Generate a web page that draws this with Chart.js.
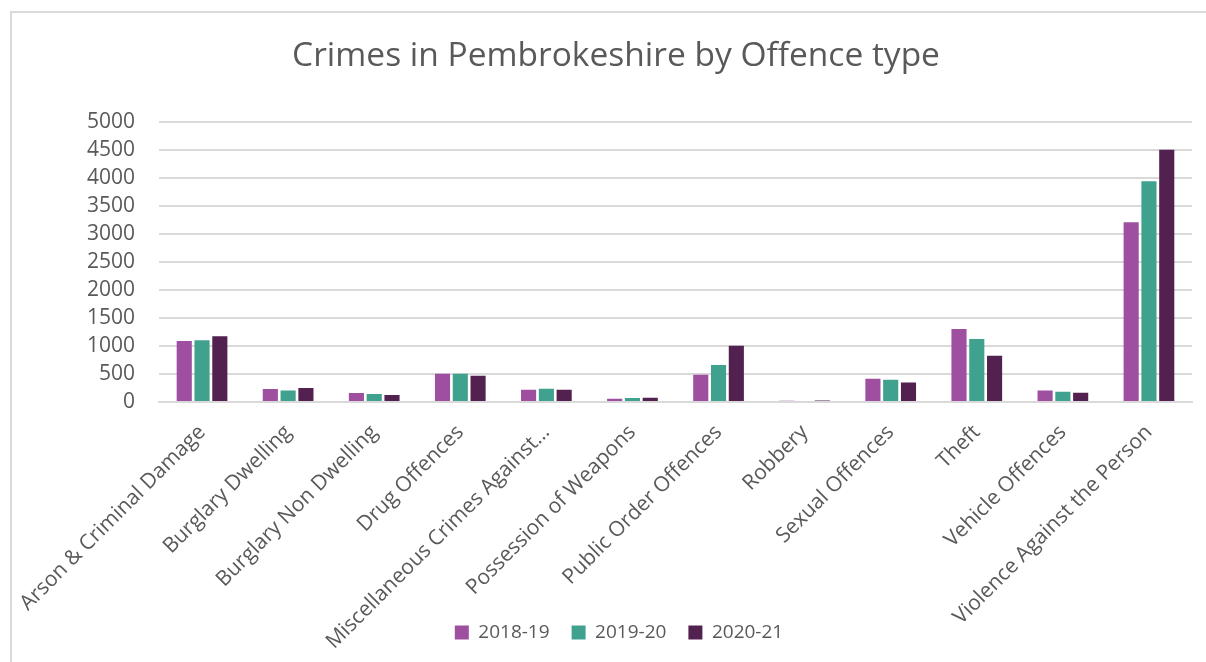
<!DOCTYPE html>
<html>
<head>
<meta charset="utf-8">
<script src="https://cdn.jsdelivr.net/npm/chart.js@4.4.0/dist/chart.umd.min.js"></script>
<style>
    html, body { margin: 0; padding: 0; background: #fff; }
    #frame {
        position: absolute;
        left: 10px;
        top: 11px;
        width: 1194px;
        height: 649px;
        border-left: 2px solid #d9d9d9;
        border-top: 2px solid #d9d9d9;
    }
    canvas { display: block; }
</style>
</head>
<body>
<div id="frame">
    <canvas id="barChart" width="1194" height="649"></canvas>
</div>
<script>
// data
const categories = [
    'Arson & Criminal Damage',
    'Burglary Dwelling',
    'Burglary Non Dwelling',
    'Drug Offences',
    'Miscellaneous Crimes Against\u2026',
    'Possession of Weapons',
    'Public Order Offences',
    'Robbery',
    'Sexual Offences',
    'Theft',
    'Vehicle Offences',
    'Violence Against the Person'
];
const seriesNames = ['2018-19', '2019-20', '2020-21'];
const values2018 = [1092, 232, 160, 504, 219, 59, 487, 23, 415, 1306, 207, 3213];
const values2019 = [1105, 207, 142, 504, 237, 71, 659, 20, 397, 1128, 184, 3943];
const values2020 = [1176, 249, 125, 469, 219, 77, 1003, 25, 350, 825, 166, 4508];
const yMax = 5000;
const yStep = 500;

const colors = ['#9e4f9f', '#41a18f', '#52214f'];
const textColor = '#595959';
const fontName = '"Open Sans", sans-serif';

const ctx = document.getElementById('barChart').getContext('2d');

const makeDataset = (label, data, color) => ({
    label: label,
    data: data,
    backgroundColor: color,
    borderWidth: 0,
    categoryPercentage: 0.62,
    barPercentage: 0.85
});

// long rotated labels run down past the axis box, into the legend row;
// title and legend sit a little right of centre in the original
const tweakLayout = {
    id: 'tweakLayout',
    afterLayout: (chart) => {
        chart.scales.x.bottom = chart.height;
        chart.titleBlock.left += 28;
        chart.legend.left += 17;
        chart.legend.right += 17;
    }
};

new Chart(ctx, {
    type: 'bar',
    data: {
        labels: categories,
        datasets: [
            makeDataset(seriesNames[0], values2018, colors[0]),
            makeDataset(seriesNames[1], values2019, colors[1]),
            makeDataset(seriesNames[2], values2020, colors[2])
        ]
    },
    plugins: [tweakLayout],
    options: {
        responsive: false,
        animation: false,
        layout: {
            padding: { left: 0, right: 14, top: 0, bottom: 10 }
        },
        plugins: {
            title: {
                display: true,
                text: 'Crimes in Pembrokeshire by Offence type',
                color: textColor,
                font: { family: fontName, size: 33.5, weight: 'normal' },
                padding: { top: 23, bottom: 46 }
            },
            legend: {
                display: true,
                position: 'bottom',
                labels: {
                    color: textColor,
                    font: { family: fontName, size: 19 },
                    boxWidth: 14,
                    boxHeight: 14,
                    padding: 22
                }
            },
            tooltip: { enabled: false }
        },
        scales: {
            x: {
                afterFit: (axis) => {
                    axis.height = 199;
                    axis.paddingLeft = 0;
                    axis.paddingRight = 0;
                },
                grid: { display: false, drawTicks: false },
                border: { color: '#d9d9d9', width: 2 },
                ticks: {
                    color: textColor,
                    font: { family: fontName, size: 21 },
                    maxRotation: 45,
                    minRotation: 45,
                    autoSkip: false,
                    padding: 18
                }
            },
            y: {
                min: 0,
                max: yMax,
                afterFit: (axis) => {
                    axis.width = 147;
                },
                grid: { color: '#d9d9d9', lineWidth: 2, drawTicks: false },
                border: { display: false },
                ticks: {
                    stepSize: yStep,
                    autoSkip: false,
                    color: textColor,
                    font: { family: fontName, size: 21, lineHeight: 1 },
                    padding: 24,
                    callback: (value) => String(value)
                }
            }
        }
    }
});
</script>
</body>
</html>
